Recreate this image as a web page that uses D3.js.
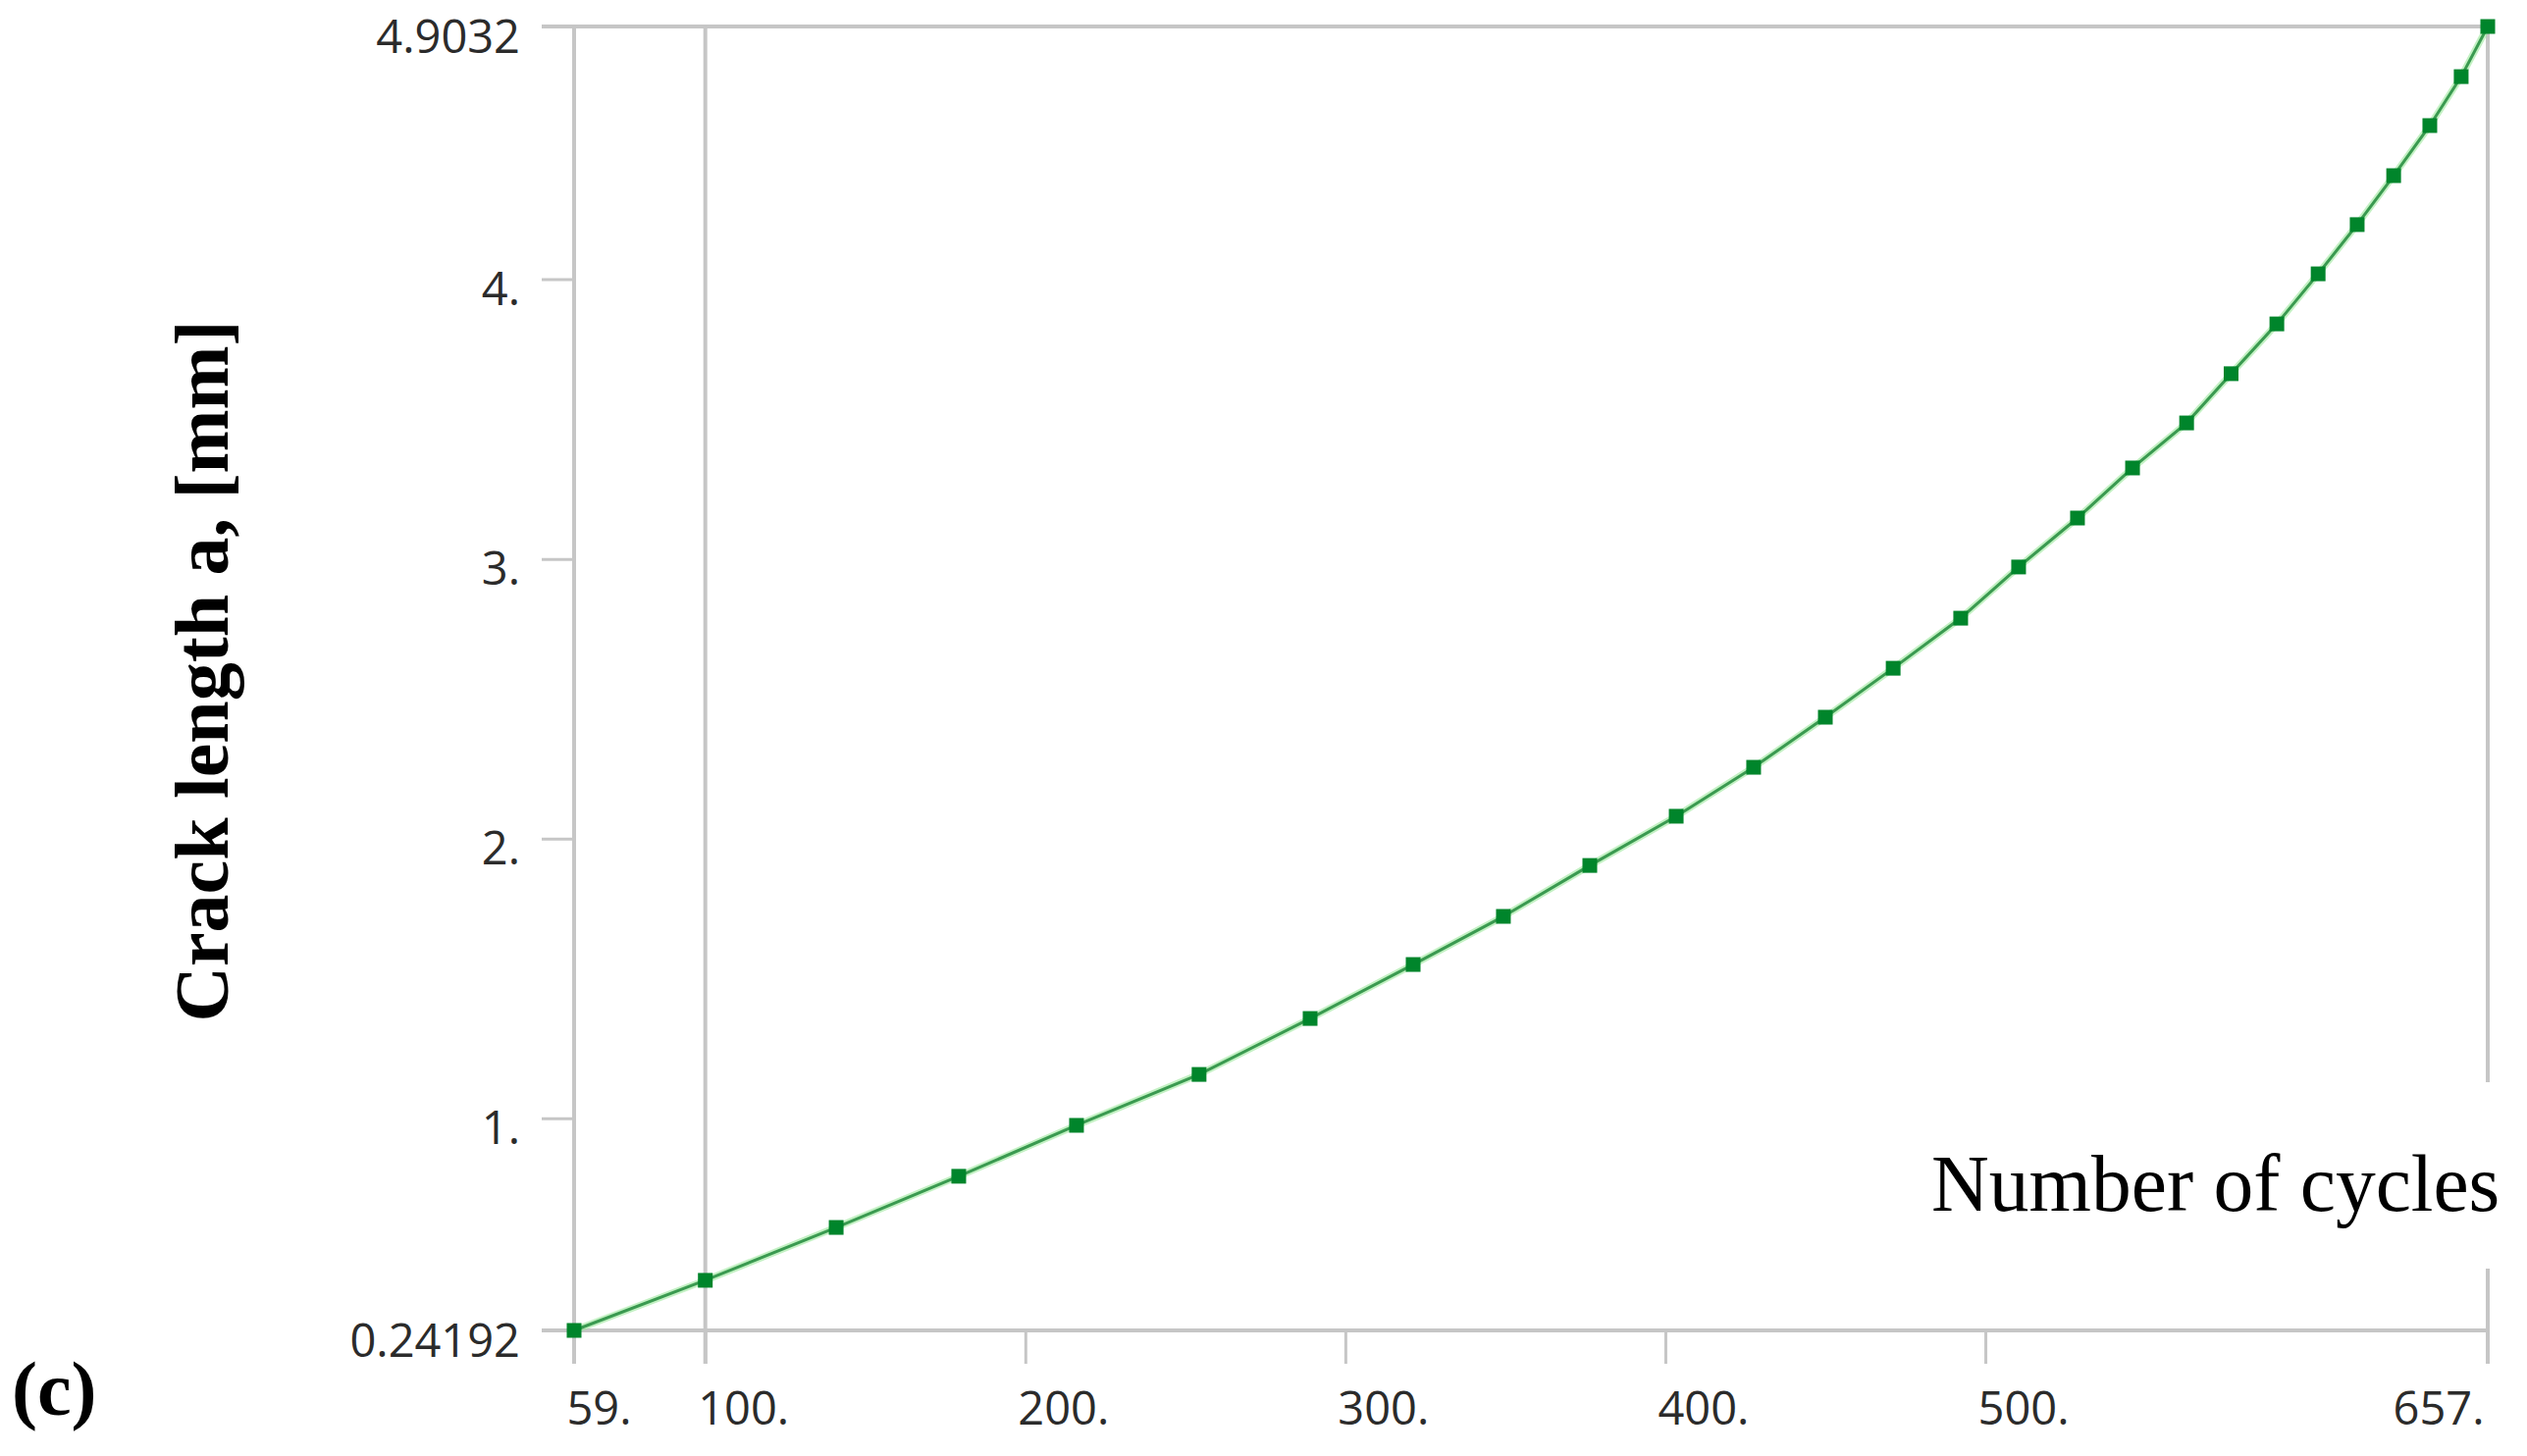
<!DOCTYPE html>
<html>
<head>
<meta charset="utf-8">
<script src="https://cdn.jsdelivr.net/npm/d3@7"></script>
<style>
  html, body { margin: 0; padding: 0; background: #fff; }
  svg { display: block; }
</style>
</head>
<body>
<svg id="chart" width="2575" height="1484"></svg>
<script>
// ---- data ----
const cycles = [59, 100, 140.9, 179.2, 216.0, 254.3, 289.0, 321.2, 349.4, 376.4, 403.4, 427.6, 450.0, 471.2,
                492.3, 510.4, 528.8, 546.0, 562.9, 576.8, 591.1, 604.0, 616.2, 627.6, 638.9, 648.7, 657];
const crackLength = [0.24192, 0.421, 0.610, 0.793, 0.975, 1.157, 1.357, 1.550, 1.722, 1.904, 2.080, 2.255, 2.434, 2.609,
                     2.788, 2.971, 3.146, 3.325, 3.486, 3.662, 3.840, 4.019, 4.195, 4.370, 4.549, 4.724, 4.9032];
const xTickValues = [59, 100, 200, 300, 400, 500, 657];
const xTickLabels = ["59.", "100.", "200.", "300.", "400.", "500.", "657."];
const yTickValues = [0.24192, 1, 2, 3, 4, 4.9032];
const yTickLabels = ["0.24192", "1.", "2.", "3.", "4.", "4.9032"];
const xGridValues = [59, 100, 657];
const yGridValues = [0.24192, 4.9032];
const yTitle = "Crack length a, [mm]";
const xTitle = "Number of cycles";
const panelLabel = "(c)";

// ---- layout ----
const svg = d3.select("#chart");
const x = d3.scaleLinear().domain([59, 657]).range([585, 2535]);
const y = d3.scaleLinear().domain([0.24192, 4.9032]).range([1356, 27]);
const gridColor = "#c6c6c6";
const tickFont = "'Open Sans', 'Noto Sans', sans-serif";

// horizontal boundary lines (extend left as ticks)
svg.append("g").selectAll("line").data(yGridValues).join("line")
  .attr("x1", 552).attr("x2", x(657))
  .attr("y1", d => y(d)).attr("y2", d => y(d))
  .attr("stroke", gridColor).attr("stroke-width", 4);

// vertical lines (extend below as ticks)
svg.append("g").selectAll("line").data(xGridValues).join("line")
  .attr("x1", d => x(d)).attr("x2", d => x(d))
  .attr("y1", y(4.9032)).attr("y2", 1390)
  .attr("stroke", gridColor).attr("stroke-width", 4);

// x axis ticks + labels
const xAxis = d3.axisBottom(x).tickValues(xTickValues)
  .tickFormat((d, i) => xTickLabels[i]).tickSize(34).tickSizeOuter(0);
const gx = svg.append("g").attr("transform", `translate(0,${y(0.24192)})`).call(xAxis);
gx.select(".domain").remove();
gx.selectAll(".tick line").attr("stroke", gridColor).attr("stroke-width", 3);
gx.selectAll(".tick text")
  .attr("font-family", tickFont).attr("font-size", 47).attr("fill", "#2b2b2b")
  .attr("y", 96).attr("dy", 0)
  .attr("text-anchor", (d, i) => i === xTickValues.length - 1 ? "end" : "start")
  .attr("x", (d, i) => i === xTickValues.length - 1 ? -4 : -8);

// y axis ticks + labels
const yAxis = d3.axisLeft(y).tickValues(yTickValues)
  .tickFormat((d, i) => yTickLabels[i]).tickSize(33).tickSizeOuter(0);
const gy = svg.append("g").attr("transform", `translate(${x(59)},0)`).call(yAxis);
gy.select(".domain").remove();
gy.selectAll(".tick line").attr("stroke", gridColor).attr("stroke-width", 3);
gy.selectAll(".tick text")
  .attr("font-family", tickFont).attr("font-size", 47).attr("fill", "#2b2b2b")
  .attr("x", -55).attr("dy", 0).attr("y", 26)
  .attr("text-anchor", "end");

// series
const pts = cycles.map((c, i) => [c, crackLength[i]]);
const line = d3.line().x(d => x(d[0])).y(d => y(d[1]));
svg.append("path").datum(pts).attr("d", line)
  .attr("fill", "none").attr("stroke", "#9be79b").attr("stroke-width", 7).attr("stroke-opacity", 0.6);
svg.append("path").datum(pts).attr("d", line)
  .attr("fill", "none").attr("stroke", "#3a9a50").attr("stroke-width", 3);
const ms = 15;
svg.append("g").selectAll("rect").data(pts).join("rect")
  .attr("x", d => x(d[0]) - ms / 2).attr("y", d => y(d[1]) - ms / 2)
  .attr("width", ms).attr("height", ms)
  .attr("fill", "#00852b");

// x title with white backing
svg.append("rect").attr("x", 1960).attr("y", 1103).attr("width", 615).attr("height", 190).attr("fill", "#fff");
svg.append("text").attr("x", 1968).attr("y", 1234)
  .attr("font-family", "'Liberation Serif', 'Times New Roman', serif").attr("font-size", 81.5)
  .attr("fill", "#000").text(xTitle);

// y title
svg.append("text")
  .attr("transform", "translate(232,684) rotate(-90)")
  .attr("text-anchor", "middle")
  .attr("font-family", "'Liberation Serif', 'Times New Roman', serif").attr("font-weight", "bold")
  .attr("font-size", 78).attr("fill", "#000").text(yTitle);

// panel label
svg.append("text").attr("x", 12).attr("y", 1442)
  .attr("font-family", "'Liberation Serif', 'Times New Roman', serif").attr("font-weight", "bold")
  .attr("font-size", 78).attr("fill", "#000").text(panelLabel);
</script>
</body>
</html>
